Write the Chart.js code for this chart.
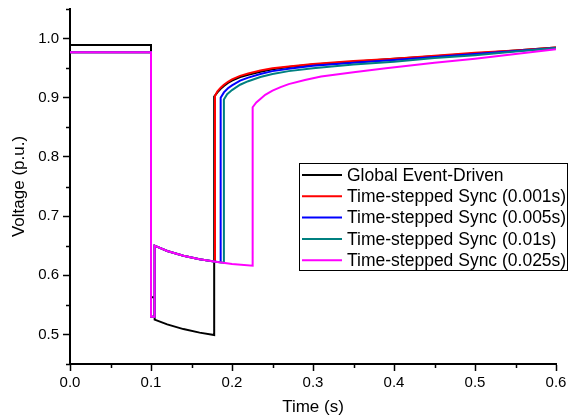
<!DOCTYPE html>
<html>
<head>
<meta charset="utf-8">
<script src="https://cdn.jsdelivr.net/npm/chart.js@4.4.1/dist/chart.umd.min.js"></script>
<style>
    body { margin: 0; background: #fff; }
    #voltageChart { display: block; }
</style>
</head>
<body>
<canvas id="voltageChart" width="568" height="418"></canvas>
<script>
// Series labels (legend order)
var seriesLabels = ['Global Event-Driven', 'Time-stepped Sync (0.001s)', 'Time-stepped Sync (0.005s)', 'Time-stepped Sync (0.01s)', 'Time-stepped Sync (0.025s)'];

// Global Event-Driven
var globalTime = [0, 0.1, 0.1, 0.1045, 0.1045, 0.12, 0.14, 0.16, 0.178, 0.178, 0.182, 0.186, 0.19, 0.195, 0.2, 0.21, 0.22, 0.235, 0.25, 0.27, 0.3, 0.35, 0.4, 0.45, 0.5, 0.55, 0.6];
var globalVolt = [0.989, 0.989, 0.563, 0.563, 0.525, 0.517, 0.509, 0.503, 0.499, 0.902, 0.909, 0.915, 0.920, 0.925, 0.929, 0.935, 0.939, 0.944, 0.948, 0.952, 0.956, 0.961, 0.966, 0.970, 0.975, 0.980, 0.985];

// Time-stepped Sync (0.001s)
var sync001Time = [0, 0.1, 0.1, 0.1045, 0.1045, 0.12, 0.14, 0.16, 0.179, 0.179, 0.182, 0.186, 0.19, 0.195, 0.2, 0.21, 0.22, 0.235, 0.25, 0.27, 0.3, 0.35, 0.4, 0.45, 0.5, 0.55, 0.6];
var sync001Volt = [0.977, 0.977, 0.530, 0.530, 0.650, 0.641, 0.633, 0.627, 0.623, 0.903, 0.911, 0.917, 0.922, 0.927, 0.931, 0.937, 0.941, 0.946, 0.950, 0.953, 0.957, 0.962, 0.966, 0.971, 0.976, 0.980, 0.985];

// Time-stepped Sync (0.005s)
var sync005Time = [0, 0.1, 0.1, 0.1045, 0.1045, 0.12, 0.14, 0.16, 0.18, 0.186, 0.186, 0.19, 0.195, 0.2, 0.21, 0.22, 0.235, 0.25, 0.27, 0.3, 0.35, 0.4, 0.45, 0.5, 0.55, 0.6];
var sync005Volt = [0.977, 0.977, 0.530, 0.530, 0.650, 0.641, 0.633, 0.627, 0.623, 0.622, 0.900, 0.909, 0.916, 0.921, 0.929, 0.934, 0.940, 0.945, 0.949, 0.954, 0.959, 0.964, 0.969, 0.974, 0.979, 0.984];

// Time-stepped Sync (0.01s)
var sync01Time = [0, 0.1, 0.1, 0.1045, 0.1045, 0.12, 0.14, 0.16, 0.18, 0.19, 0.19, 0.194, 0.2, 0.21, 0.22, 0.235, 0.25, 0.27, 0.3, 0.35, 0.4, 0.45, 0.5, 0.55, 0.6];
var sync01Volt = [0.977, 0.977, 0.530, 0.530, 0.650, 0.641, 0.633, 0.627, 0.623, 0.621, 0.897, 0.906, 0.913, 0.922, 0.928, 0.935, 0.940, 0.945, 0.950, 0.956, 0.961, 0.967, 0.972, 0.978, 0.984];

// Time-stepped Sync (0.025s)
var sync025Time = [0, 0.1, 0.1, 0.1045, 0.1045, 0.12, 0.14, 0.16, 0.18, 0.2, 0.2255, 0.2255, 0.23, 0.235, 0.241, 0.25, 0.26, 0.27, 0.29, 0.31, 0.35, 0.39, 0.45, 0.5, 0.55, 0.6];
var sync025Volt = [0.977, 0.977, 0.530, 0.530, 0.650, 0.641, 0.633, 0.627, 0.623, 0.619, 0.616, 0.884, 0.892, 0.898, 0.905, 0.912, 0.918, 0.923, 0.930, 0.936, 0.943, 0.950, 0.959, 0.966, 0.974, 0.982];

// Axis ticks
var xMajorTicks = [0, 0.1, 0.2, 0.3, 0.4, 0.5, 0.6];
var xMinorTicks = [0.05, 0.15, 0.25, 0.35, 0.45, 0.55];
var yMajorTicks = [0.5, 0.6, 0.7, 0.8, 0.9, 1.0];
var yMinorTicks = [0.45, 0.55, 0.65, 0.75, 0.85, 0.95, 1.05];

var seriesColors = ['#000000', '#ff0000', '#0000ff', '#008080', '#ff00ff'];
var fontFamily = '"Liberation Sans", Arial, sans-serif';

function toPoints(times, volts) {
    return times.map(function (t, i) { return { x: t, y: volts[i] }; });
}

var seriesData = [
    toPoints(globalTime, globalVolt),
    toPoints(sync001Time, sync001Volt),
    toPoints(sync005Time, sync005Volt),
    toPoints(sync01Time, sync01Volt),
    toPoints(sync025Time, sync025Volt)
];

// minor ticks, drawn through the scales
var minorTicksPlugin = {
    id: 'minorTicks',
    afterDraw: function (chart) {
        var ctx = chart.ctx;
        var xs = chart.scales.x, ys = chart.scales.y;
        ctx.save();
        ctx.strokeStyle = '#000';
        ctx.lineWidth = 1.5;
        ctx.beginPath();
        xMinorTicks.forEach(function (v) {
            var px = Math.round(xs.getPixelForValue(v)) + 0.5;
            ctx.moveTo(px, xs.top);
            ctx.lineTo(px, xs.top + 4);
        });
        yMinorTicks.forEach(function (v) {
            var py = Math.round(ys.getPixelForValue(v)) + 0.5;
            ctx.moveTo(ys.right, py);
            ctx.lineTo(ys.right - 4, py);
        });
        ctx.stroke();
        ctx.restore();
    }
};

// boxed legend inside the plot
var boxLegendPlugin = {
    id: 'boxLegend',
    afterDraw: function (chart) {
        var ctx = chart.ctx;
        var left = 299.5, top = 163.5, right = 567.5, bottom = 270.5;
        ctx.save();
        ctx.fillStyle = '#fff';
        ctx.fillRect(left, top, right - left, bottom - top);
        ctx.strokeStyle = '#000';
        ctx.lineWidth = 1;
        ctx.strokeRect(left, top, right - left, bottom - top);
        ctx.font = '17.5px ' + fontFamily;
        ctx.textBaseline = 'middle';
        ctx.textAlign = 'left';
        chart.data.datasets.forEach(function (ds, i) {
            var y = 175 + i * 21.3;
            ctx.strokeStyle = ds.borderColor;
            ctx.lineWidth = 2;
            ctx.beginPath();
            ctx.moveTo(302, y);
            ctx.lineTo(342, y);
            ctx.stroke();
            ctx.fillStyle = '#000';
            ctx.fillText(ds.label, 347, y + 1);
        });
        ctx.restore();
    }
};

var ctx = document.getElementById('voltageChart').getContext('2d');

var chart = new Chart(ctx, {
    type: 'line',
    data: {
        datasets: seriesData.map(function (pts, i) {
            return {
                label: seriesLabels[i],
                data: pts,
                borderColor: seriesColors[i],
                backgroundColor: seriesColors[i],
                borderWidth: 2,
                pointRadius: 0,
                tension: 0,
                fill: false,
                order: 5 - i // magenta on top, black at the bottom
            };
        })
    },
    options: {
        responsive: false,
        animation: false,
        devicePixelRatio: 1,
        layout: { padding: { top: 9, right: 12, left: 0, bottom: 0 } },
        plugins: {
            legend: { display: false },
            tooltip: { enabled: false }
        },
        scales: {
            x: {
                type: 'linear',
                min: 0,
                max: 0.6,
                afterBuildTicks: function (scale) {
                    scale.ticks = xMajorTicks.map(function (v) { return { value: v }; });
                },
                afterFit: function (scale) {
                    scale.height = 54;
                    scale.paddingLeft = 0;
                    scale.paddingRight = 0;
                },
                ticks: {
                    color: '#000',
                    font: { family: fontFamily, size: 15 },
                    padding: 3,
                    maxRotation: 0,
                    callback: function (v) { return v.toFixed(1); }
                },
                grid: {
                    drawOnChartArea: false,
                    tickLength: 7,
                    tickColor: '#000',
                    tickWidth: 1.5
                },
                border: { color: '#000', width: 2 },
                title: {
                    display: true,
                    text: 'Time (s)',
                    color: '#000',
                    font: { family: fontFamily, size: 17 },
                    padding: { top: 0, bottom: 0 }
                }
            },
            y: {
                min: 0.45,
                max: 1.05,
                afterBuildTicks: function (scale) {
                    scale.ticks = yMajorTicks.map(function (v) { return { value: v }; });
                },
                afterFit: function (scale) {
                    scale.width = 70;
                    scale.paddingTop = 0;
                    scale.paddingBottom = 0;
                },
                ticks: {
                    color: '#000',
                    font: { family: fontFamily, size: 15 },
                    padding: 4,
                    callback: function (v) { return v.toFixed(1); }
                },
                grid: {
                    drawOnChartArea: false,
                    tickLength: 7,
                    tickColor: '#000',
                    tickWidth: 1.5
                },
                border: { color: '#000', width: 2 },
                title: {
                    display: true,
                    text: 'Voltage (p.u.)',
                    color: '#000',
                    font: { family: fontFamily, size: 17 },
                    padding: { top: 9, bottom: 0 }
                }
            }
        }
    },
    plugins: [minorTicksPlugin, boxLegendPlugin]
});
</script>
</body>
</html>
